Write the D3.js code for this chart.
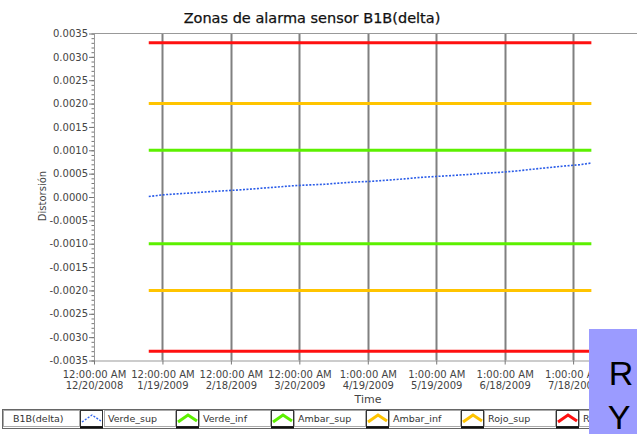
<!DOCTYPE html>
<html>
<head>
<meta charset="utf-8">
<script src="https://cdn.jsdelivr.net/npm/d3@7"></script>
<style>
  body { margin: 0; background: #fff; }
  svg { display: block; font-family: "DejaVu Sans", Verdana, sans-serif; }
</style>
</head>
<body>
<svg id="chart" width="637" height="434"></svg>
<script>
// sensor readings (weekly)
var deltaDates = ["2009-01-13", "2009-01-20", "2009-01-27", "2009-02-03", "2009-02-10", "2009-02-17",
    "2009-02-24", "2009-03-03", "2009-03-10", "2009-03-17", "2009-03-24", "2009-03-31", "2009-04-07",
    "2009-04-14", "2009-04-21", "2009-04-28", "2009-05-05", "2009-05-12", "2009-05-19", "2009-05-26",
    "2009-06-02", "2009-06-09", "2009-06-16", "2009-06-23", "2009-06-30", "2009-07-07", "2009-07-14",
    "2009-07-21", "2009-07-26"];
var deltaValues = [0.000010, 0.000050, 0.000072, 0.000094, 0.000118, 0.000138,
    0.000160, 0.000186, 0.000212, 0.000240, 0.000258, 0.000272, 0.000300,
    0.000322, 0.000336, 0.000362, 0.000388, 0.000420, 0.000440, 0.000460,
    0.000482, 0.000508, 0.000528, 0.000556, 0.000594, 0.000628, 0.000662,
    0.000692, 0.000728];

// alarm zone limits
var zoneNames = ["Verde_sup", "Verde_inf", "Ambar_sup", "Ambar_inf", "Rojo_sup", "Rojo_inf"];
var zoneValues = [0.0010, -0.0010, 0.0020, -0.0020, 0.0033, -0.0033];
var zoneColors = ["#5cf000", "#5cf000", "#ffc400", "#ffc400", "#ff1010", "#ff1010"];
var zoneStart = "2009-01-13";
var zoneEnd = "2009-07-26";

var legendNames = ["B1B(delta)", "Verde_sup", "Verde_inf", "Ambar_sup", "Ambar_inf", "Rojo_sup", "Rojo_inf"];
var legendColors = ["#3366ee", "#5cf000", "#5cf000", "#ffc400", "#ffc400", "#ff1010", "#ff1010"];

var yTicks = [0.0035, 0.0030, 0.0025, 0.0020, 0.0015, 0.0010, 0.0005, 0.0000,
    -0.0005, -0.0010, -0.0015, -0.0020, -0.0025, -0.0030, -0.0035];
var xTickDates = ["2008-12-20", "2009-01-19", "2009-02-18", "2009-03-20",
    "2009-04-19", "2009-05-19", "2009-06-18", "2009-07-18"];
var xTickTimes = ["12:00:00 AM", "12:00:00 AM", "12:00:00 AM", "12:00:00 AM",
    "1:00:00 AM", "1:00:00 AM", "1:00:00 AM", "1:00:00 AM"];
var xTickDays = ["12/20/2008", "1/19/2009", "2/18/2009", "3/20/2009",
    "4/19/2009", "5/19/2009", "6/18/2009", "7/18/2009"];

var svg = d3.select("#chart");
var parse = d3.utcParse("%Y-%m-%d");

var plotL = 94, plotR = 637, plotT = 33.5, plotB = 360.5;

var x = d3.scaleUtc()
    .domain([parse("2008-12-20"), parse("2009-08-15")])
    .range([plotL, plotR]);
var y = d3.scaleLinear()
    .domain([-0.0035, 0.0035])
    .range([plotB, plotT]);

var locale = d3.formatLocale({decimal: ".", thousands: ",", grouping: [3], currency: ["", ""], minus: "-"});
var fmt = locale.format(".4f");

// title
svg.append("text")
    .attr("x", 312).attr("y", 23)
    .attr("text-anchor", "middle")
    .attr("font-size", 14.5)
    .attr("fill", "#111")
    .attr("stroke", "#111")
    .attr("stroke-width", 0.25)
    .text("Zonas de alarma sensor B1B(delta)");

// vertical grid
svg.append("g").selectAll("line")
    .data(xTickDates.slice(1))
    .enter().append("line")
    .attr("x1", function(d) { return Math.round(x(parse(d))) + 0.5; })
    .attr("x2", function(d) { return Math.round(x(parse(d))) + 0.5; })
    .attr("y1", plotT).attr("y2", plotB)
    .attr("stroke", "#808080")
    .attr("stroke-width", 2);

// frame top
svg.append("line")
    .attr("x1", plotL).attr("x2", plotR)
    .attr("y1", plotT).attr("y2", plotT)
    .attr("stroke", "#999");

// y axis: minor ticks then major
var yMinor = svg.append("g")
    .attr("transform", "translate(" + plotL + ",0)")
    .call(d3.axisLeft(y).ticks(70).tickSize(2.5).tickFormat(""));
yMinor.select(".domain").remove();
yMinor.selectAll("line").attr("stroke", "#777");

var yAxis = svg.append("g")
    .attr("transform", "translate(" + plotL + ",0)")
    .call(d3.axisLeft(y).tickValues(yTicks).tickSize(5).tickSizeOuter(0).tickFormat(fmt));
yAxis.select(".domain").attr("stroke", "#999");
yAxis.selectAll("line").attr("stroke", "#777");
yAxis.selectAll("text")
    .attr("font-size", 10)
    .attr("font-family", "DejaVu Sans, Verdana, sans-serif")
    .attr("fill", "#444")
    .attr("x", -6);

// x axis
var xAxis = svg.append("g")
    .attr("transform", "translate(0," + plotB + ")")
    .call(d3.axisBottom(x).tickValues(xTickDates.map(parse)).tickSize(4).tickSizeOuter(0).tickFormat(""));
xAxis.select(".domain").attr("stroke", "#999");
xAxis.selectAll("line").attr("stroke", "#777");
xAxis.selectAll(".tick").each(function(d, i) {
    var t = d3.select(this).append("text")
        .attr("text-anchor", "middle")
        .attr("font-size", 10)
        .attr("font-family", "DejaVu Sans, Verdana, sans-serif")
        .attr("fill", "#444");
    t.append("tspan").attr("x", 0).attr("y", 17).text(xTickTimes[i]);
    t.append("tspan").attr("x", 0).attr("y", 28).text(xTickDays[i]);
});

// axis titles
svg.append("text")
    .attr("x", 368).attr("y", 403)
    .attr("text-anchor", "middle")
    .attr("font-size", 11)
    .attr("fill", "#444")
    .text("Time");
svg.append("text")
    .attr("transform", "translate(46,196) rotate(-90)")
    .attr("text-anchor", "middle")
    .attr("font-size", 10)
    .attr("fill", "#444")
    .text("Distorsión");

// zone lines
svg.append("g").selectAll("line")
    .data(zoneValues)
    .enter().append("line")
    .attr("x1", x(parse(zoneStart)))
    .attr("x2", x(parse(zoneEnd)))
    .attr("y1", function(d) { return y(d); })
    .attr("y2", function(d) { return y(d); })
    .attr("stroke", function(d, i) { return zoneColors[i]; })
    .attr("stroke-width", 3);

// sensor line
var line = d3.line()
    .x(function(d, i) { return x(parse(deltaDates[i])); })
    .y(function(d) { return y(d); });
svg.append("path")
    .datum(deltaValues)
    .attr("d", line)
    .attr("fill", "none")
    .attr("stroke", "#2a5ce8")
    .attr("stroke-width", 1.6)
    .attr("stroke-dasharray", "2,1.5");

// legend
var legend = svg.append("g");
legend.append("rect")
    .attr("x", 2.5).attr("y", 409.5)
    .attr("width", 640).attr("height", 19)
    .attr("fill", "#fff")
    .attr("stroke", "#666");
var textW = 72, swW = 23, step = 95;
legendNames.forEach(function(name, i) {
    var tx = i === 0 ? 3 : 80 + swW + (i - 1) * step + 1;
    var tw = i === 0 ? 77 : textW;
    legend.append("rect")
        .attr("x", tx + 0.5).attr("y", 410.5)
        .attr("width", tw - 1).attr("height", 16)
        .attr("fill", "#fff").attr("stroke", "#aaa");
    legend.append("text")
        .attr("x", tx + (i === 0 ? 10 : 4)).attr("y", 422)
        .attr("font-size", 9.5)
        .attr("fill", "#333")
        .text(name);
    var sx = tx + tw;
    legend.append("rect")
        .attr("x", sx + 0.5).attr("y", 410.5)
        .attr("width", swW - 1).attr("height", 16)
        .attr("fill", "#fff").attr("stroke", "#333");
    legend.append("line")
        .attr("x1", sx).attr("x2", sx + swW)
        .attr("y1", 427.5).attr("y2", 427.5)
        .attr("stroke", "#111").attr("stroke-width", 2);
    legend.append("polyline")
        .attr("points", [[sx + 2, 422], [sx + 12, 415], [sx + 21, 421]].join(" "))
        .attr("fill", "none")
        .attr("stroke", legendColors[i])
        .attr("stroke-width", i === 0 ? 1.4 : 3)
        .attr("stroke-dasharray", i === 0 ? "2,1.5" : null);
});

// overlay box
svg.append("rect")
    .attr("x", 589).attr("y", 329)
    .attr("width", 48).attr("height", 105)
    .attr("fill", "#9b9bff");
svg.append("text")
    .attr("x", 621).attr("y", 385)
    .attr("text-anchor", "middle")
    .attr("font-family", "Liberation Sans, Arial, sans-serif")
    .attr("font-size", 34)
    .attr("fill", "#000")
    .text("R");
svg.append("text")
    .attr("x", 619).attr("y", 429)
    .attr("text-anchor", "middle")
    .attr("font-family", "Liberation Sans, Arial, sans-serif")
    .attr("font-size", 34)
    .attr("fill", "#000")
    .text("Y");
</script>
</body>
</html>
